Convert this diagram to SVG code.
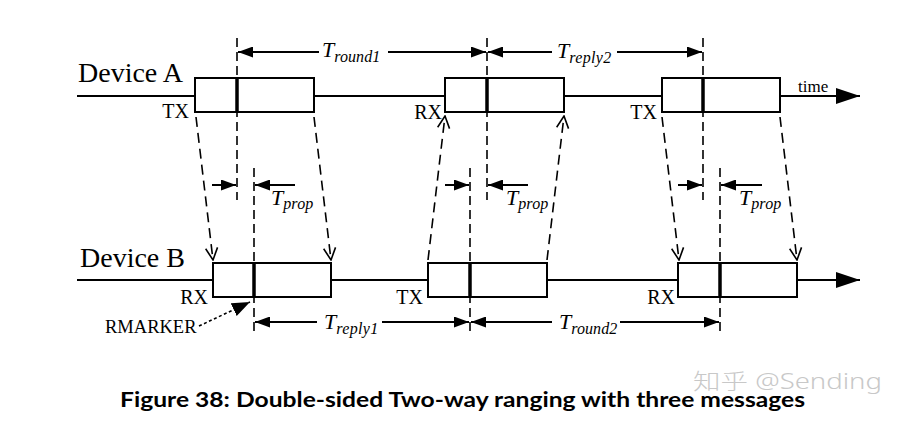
<svg xmlns="http://www.w3.org/2000/svg" width="906" height="421" viewBox="0 0 906 421">
<defs>
<style>
.ln{stroke:#000;stroke-width:2;fill:none}
.box{stroke:#000;stroke-width:2;fill:#fff}
.mk{stroke:#000;stroke-width:3.5}
.dv{stroke:#000;stroke-width:1.6;stroke-dasharray:9,5;fill:none}
.msg{stroke:#000;stroke-width:1.6;stroke-dasharray:10,6;fill:none;marker-end:url(#open)}
.ar{stroke:#000;stroke-width:2;fill:none;marker-end:url(#fill)}
.lbl{font-family:"Liberation Serif","Times New Roman",serif;fill:#000}
.dev{font-size:28px}
.io{font-size:20px}
.T{font-size:22px;font-style:italic}
.sub{font-size:16px;font-style:italic}
</style>
<marker id="open" viewBox="0 0 14 14" refX="13" refY="7" markerWidth="14" markerHeight="14" markerUnits="userSpaceOnUse" orient="auto">
<path d="M1,1 L13,7 L1,13" fill="none" stroke="#000" stroke-width="1.6"/>
</marker>
<marker id="fill" viewBox="0 0 15 11" refX="15" refY="5.5" markerWidth="15" markerHeight="11" markerUnits="userSpaceOnUse" orient="auto">
<path d="M0,0 L15,5.5 L0,11 Z" fill="#000"/>
</marker>
<marker id="big" viewBox="0 0 24 16" refX="24" refY="8" markerWidth="24" markerHeight="16" markerUnits="userSpaceOnUse" orient="auto">
<path d="M0,0 L24,8 L0,16 Z" fill="#000"/>
</marker>
<marker id="dot" viewBox="0 0 18 14" refX="18" refY="7" markerWidth="18" markerHeight="14" markerUnits="userSpaceOnUse" orient="auto">
<path d="M0,0 L18,7 L0,14 Z" fill="#000"/>
</marker>
</defs>
<rect width="906" height="421" fill="#fff"/>

<g id="timelines">
<line x1="77" y1="96" x2="860" y2="96" class="ln" marker-end="url(#big)"/>
<line x1="77" y1="280" x2="860" y2="280" class="ln" marker-end="url(#big)"/>
<text x="798" y="92" class="lbl" font-size="17">time</text>
</g>

<g id="deviceA">
<text x="78" y="82" class="lbl dev">Device A</text>
</g>
<g id="deviceB">
<text x="80" y="267" class="lbl dev">Device B</text>
</g>

<g id="A1">
<rect x="195" y="78" width="119" height="34" class="box"/>
<line x1="237" y1="78" x2="237" y2="112" class="mk"/>
<text x="189" y="118" class="lbl io" text-anchor="end">TX</text>
</g>
<g id="A2">
<rect x="445" y="78" width="119" height="34" class="box"/>
<line x1="487" y1="78" x2="487" y2="112" class="mk"/>
<text x="442" y="119" class="lbl io" text-anchor="end">RX</text>
</g>
<g id="A3">
<rect x="662" y="78" width="118" height="34" class="box"/>
<line x1="703" y1="78" x2="703" y2="112" class="mk"/>
<text x="657" y="119" class="lbl io" text-anchor="end">TX</text>
</g>

<g id="B1">
<rect x="213" y="263" width="118" height="34" class="box"/>
<line x1="254" y1="263" x2="254" y2="297" class="mk"/>
<text x="208" y="304" class="lbl io" text-anchor="end">RX</text>
</g>
<g id="B2">
<rect x="428" y="263" width="119" height="34" class="box"/>
<line x1="470" y1="263" x2="470" y2="297" class="mk"/>
<text x="423" y="304" class="lbl io" text-anchor="end">TX</text>
</g>
<g id="B3">
<rect x="678" y="263" width="119" height="34" class="box"/>
<line x1="720" y1="263" x2="720" y2="297" class="mk"/>
<text x="675" y="304" class="lbl io" text-anchor="end">RX</text>
</g>

<g id="rmarker">
<text x="105" y="333" class="lbl" font-size="18.5">RMARKER</text>
<line x1="199" y1="326" x2="250" y2="302" stroke="#000" stroke-width="1.6" stroke-dasharray="3,2.5" marker-end="url(#dot)"/>
</g>

<g id="connectors">
<line x1="237" y1="38" x2="237" y2="200" class="dv"/>
<line x1="487" y1="38" x2="487" y2="200" class="dv"/>
<line x1="703" y1="38" x2="703" y2="200" class="dv"/>
<line x1="254" y1="168" x2="254" y2="331" class="dv"/>
<line x1="470" y1="168" x2="470" y2="331" class="dv"/>
<line x1="720" y1="168" x2="720" y2="331" class="dv"/>
<line x1="196" y1="117" x2="213" y2="260" class="msg"/>
<line x1="314" y1="117" x2="331" y2="260" class="msg"/>
<line x1="428" y1="260" x2="445" y2="116" class="msg"/>
<line x1="547" y1="260" x2="564" y2="116" class="msg"/>
<line x1="662" y1="117" x2="679" y2="260" class="msg"/>
<line x1="780" y1="117" x2="797" y2="260" class="msg"/>
<line x1="319" y1="52" x2="238" y2="52" class="ar"/>
<line x1="388" y1="52" x2="486" y2="52" class="ar"/>
<line x1="552" y1="52" x2="488" y2="52" class="ar"/>
<line x1="617" y1="52" x2="702" y2="52" class="ar"/>
<line x1="212" y1="185" x2="236" y2="185" class="ar"/>
<line x1="295" y1="185" x2="255" y2="185" class="ar"/>
<line x1="445" y1="185" x2="469" y2="185" class="ar"/>
<line x1="528" y1="185" x2="488" y2="185" class="ar"/>
<line x1="678" y1="185" x2="702" y2="185" class="ar"/>
<line x1="762" y1="185" x2="721" y2="185" class="ar"/>
<line x1="317" y1="322" x2="255" y2="322" class="ar"/>
<line x1="382" y1="322" x2="469" y2="322" class="ar"/>
<line x1="552" y1="322" x2="471" y2="322" class="ar"/>
<line x1="620" y1="322" x2="719" y2="322" class="ar"/>
</g>

<g id="timeLabels">
<text x="322" y="57" class="lbl T">T<tspan class="sub" dy="5" textLength="46">round1</tspan></text>
<text x="557" y="58" class="lbl T">T<tspan class="sub" dy="5" textLength="42">reply2</tspan></text>
<text x="271" y="205" class="lbl T">T<tspan class="sub" dy="4" textLength="30">prop</tspan></text>
<text x="506" y="205" class="lbl T">T<tspan class="sub" dy="4" textLength="30">prop</tspan></text>
<text x="739" y="205" class="lbl T">T<tspan class="sub" dy="4" textLength="30">prop</tspan></text>
<text x="324" y="329" class="lbl T">T<tspan class="sub" dy="5" textLength="42">reply1</tspan></text>
<text x="559" y="329" class="lbl T">T<tspan class="sub" dy="5" textLength="46">round2</tspan></text>
</g>

<text x="693" y="389" font-family="'Noto Sans','Noto Sans CJK SC',sans-serif" font-size="22" font-weight="300" fill="#c8c8c8" textLength="189" lengthAdjust="spacingAndGlyphs">知乎 @Sending</text>
<text x="120" y="407" font-family="Lato,'Liberation Sans',sans-serif" font-weight="bold" font-size="21" fill="#000" textLength="685" lengthAdjust="spacingAndGlyphs">Figure 38: Double-sided Two-way ranging with three messages</text>
</svg>
